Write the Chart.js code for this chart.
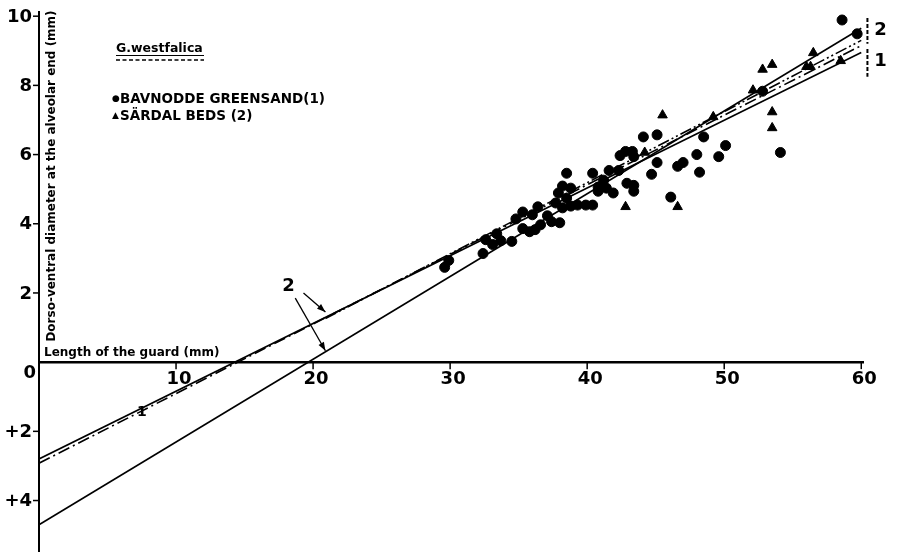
<!DOCTYPE html>
<html>
<head>
<meta charset="utf-8">
<script src="https://cdn.jsdelivr.net/npm/chart.js@4.4.0/dist/chart.umd.min.js"></script>
<style>
    html, body { margin: 0; padding: 0; background: #fff; }
    #wrap { width: 911px; height: 552px; }
</style>
</head>
<body>
<div id="wrap"><canvas id="guardChart" width="911" height="552"></canvas></div>
<script>
// Bavnodde Greensand (1) - circles
const bavnoddeX = [29.6, 29.9, 32.4, 32.6, 33.1, 33.4, 33.7, 34.5, 34.8, 35.3, 35.3, 35.8, 36.0, 36.2, 36.4, 36.6,
    37.1, 37.4, 38.0, 37.7, 37.9, 38.2, 38.5, 38.8, 38.5, 38.2, 38.8, 39.3, 39.9, 40.4, 40.4, 40.8, 41.2, 41.6,
    40.8, 41.4, 41.9, 42.3, 42.4, 42.8, 43.3, 43.4, 42.9, 43.4, 43.4, 45.1, 44.7, 46.6, 44.1, 45.1, 46.1, 47.0,
    48.0, 48.5, 49.6, 50.1, 48.2, 52.8, 54.1, 58.6, 59.7];
const bavnoddeY = [2.74, 2.94, 3.14, 3.54, 3.40, 3.71, 3.51, 3.49, 4.14, 4.34, 3.86, 3.77, 4.26, 3.83, 4.49, 3.97,
    4.23, 4.06, 4.03, 4.60, 4.89, 5.09, 5.46, 5.03, 4.74, 4.46, 4.51, 4.54, 4.54, 4.54, 5.46, 4.94, 5.26, 5.54,
    5.06, 5.03, 4.89, 5.54, 5.97, 6.09, 6.09, 5.94, 5.17, 5.11, 4.94, 5.77, 5.43, 5.66, 6.51, 6.57, 4.77, 5.77,
    6.00, 6.51, 5.94, 6.26, 5.49, 7.83, 6.06, 9.89, 9.49];

// Sardal beds (2) - triangles
const sardalX = [45.5, 49.2, 44.2, 42.8, 46.6, 52.8, 53.5, 56.5, 56.0, 56.3, 58.5, 52.1, 53.5, 53.5];
const sardalY = [7.14, 7.09, 6.06, 4.49, 4.49, 8.46, 8.60, 8.94, 8.54, 8.54, 8.71, 7.86, 7.23, 6.77];

// regression lines (end points)
const line1X = [0, 60];
const line1Solid = [-2.8, 8.95];
const line1Dash = [-2.92, 9.15];
const line2X = [0, 60];
const line2Solid = [-4.7, 9.65];
const line2DashX = [20.9, 60];
const line2Dash = [1.26, 9.3];

const xTicks = [10, 20, 30, 40, 50, 60];
const yTicks = [10, 8, 6, 4, 2, -2, -4];

const FONT = '"DejaVu Sans", "Liberation Sans", sans-serif';

function pts(xs, ys) {
    return xs.map((x, i) => ({ x: x, y: ys[i] }));
}

function lineSet(xs, ys, dash) {
    return {
        type: 'line',
        data: pts(xs, ys),
        borderColor: '#000',
        borderWidth: 1.6,
        borderDash: dash,
        pointRadius: 0,
        fill: false,
        tension: 0
    };
}

function arrow(ctx, x1, y1, x2, y2) {
    ctx.beginPath();
    ctx.moveTo(x1, y1);
    ctx.lineTo(x2, y2);
    ctx.stroke();
    const a = Math.atan2(y2 - y1, x2 - x1);
    ctx.beginPath();
    ctx.moveTo(x2, y2);
    ctx.lineTo(x2 - 9 * Math.cos(a - 0.35), y2 - 9 * Math.sin(a - 0.35));
    ctx.lineTo(x2 - 9 * Math.cos(a + 0.35), y2 - 9 * Math.sin(a + 0.35));
    ctx.closePath();
    ctx.fill();
}

// axes drawn through the origin, plus the labels of the figure
const axesPlugin = {
    id: 'axesPlugin',
    beforeDatasetsDraw(chart) {
        const ctx = chart.ctx;
        const xs = chart.scales.x, ys = chart.scales.y;
        const x0 = xs.getPixelForValue(0), y0 = ys.getPixelForValue(0);
        ctx.save();
        ctx.strokeStyle = '#000';
        // y axis
        ctx.lineWidth = 2;
        ctx.beginPath();
        ctx.moveTo(x0, ys.getPixelForValue(10.15));
        ctx.lineTo(x0, chart.height);
        ctx.stroke();
        // x axis
        ctx.lineWidth = 2.5;
        ctx.beginPath();
        ctx.moveTo(x0, y0);
        ctx.lineTo(xs.getPixelForValue(60.2), y0);
        ctx.stroke();
        // ticks
        ctx.lineWidth = 1.5;
        yTicks.forEach(v => {
            const p = ys.getPixelForValue(v);
            ctx.beginPath();
            ctx.moveTo(x0 - 6, p);
            ctx.lineTo(x0, p);
            ctx.stroke();
        });
        xTicks.forEach(v => {
            const p = xs.getPixelForValue(v);
            ctx.beginPath();
            ctx.moveTo(p, y0);
            ctx.lineTo(p, y0 + 7);
            ctx.stroke();
        });
        ctx.restore();
    },
    afterDraw(chart) {
        const ctx = chart.ctx;
        const xs = chart.scales.x, ys = chart.scales.y;
        const x0 = xs.getPixelForValue(0), y0 = ys.getPixelForValue(0);
        ctx.save();
        ctx.fillStyle = '#000';
        ctx.strokeStyle = '#000';

        // tick labels
        ctx.font = 'bold 18px ' + FONT;
        ctx.textAlign = 'right';
        ctx.textBaseline = 'middle';
        yTicks.forEach(v => {
            const txt = v < 0 ? '+' + (-v) : String(v);
            ctx.fillText(txt, x0 - 7, ys.getPixelForValue(v) + 1);
        });
        ctx.fillText('0', x0 - 3, y0 + 11);
        ctx.textAlign = 'center';
        ctx.textBaseline = 'top';
        xTicks.forEach(v => {
            ctx.fillText(String(v), xs.getPixelForValue(v) + 3, y0 + 8);
        });

        // axis titles
        ctx.font = 'bold 12px ' + FONT;
        ctx.textAlign = 'left';
        ctx.textBaseline = 'alphabetic';
        ctx.fillText('Length of the guard (mm)', x0 + 5, y0 - 6);
        ctx.save();
        ctx.translate(x0 + 16, 176);
        ctx.rotate(-Math.PI / 2);
        ctx.textAlign = 'center';
        ctx.font = 'bold 12px ' + FONT;
        ctx.fillText('Dorso-ventral diameter at the alveolar end (mm)', 0, 0);
        ctx.restore();

        // legend block
        ctx.font = 'bold 12.5px ' + FONT;
        ctx.fillText('G.westfalica', 116, 52);
        ctx.lineWidth = 1.2;
        ctx.beginPath();
        ctx.moveTo(116, 55.5);
        ctx.lineTo(204, 55.5);
        ctx.stroke();
        ctx.lineWidth = 1.5;
        ctx.setLineDash([4, 2.5]);
        ctx.beginPath();
        ctx.moveTo(116, 60);
        ctx.lineTo(204, 60);
        ctx.stroke();
        ctx.setLineDash([]);

        ctx.font = 'bold 9px ' + FONT;
        ctx.fillText('\u25CF', 112, 101);
        ctx.fillText('\u25B2', 112, 118);
        ctx.font = 'bold 13.5px ' + FONT;
        ctx.fillText('BAVNODDE GREENSAND(1)', 120, 103);
        ctx.fillText('S\u00C4RDAL BEDS (2)', 120, 120);

        // "2" with two arrows
        ctx.font = 'bold 18px ' + FONT;
        ctx.textAlign = 'center';
        ctx.textBaseline = 'middle';
        ctx.fillText('2', xs.getPixelForValue(18.2), ys.getPixelForValue(2.2));
        ctx.lineWidth = 1.3;
        arrow(ctx, xs.getPixelForValue(19.3), ys.getPixelForValue(2.0),
            xs.getPixelForValue(20.9), ys.getPixelForValue(1.45));
        arrow(ctx, xs.getPixelForValue(18.7), ys.getPixelForValue(1.85),
            xs.getPixelForValue(20.9), ys.getPixelForValue(0.33));

        // "1" mark on the upper lines
        ctx.font = 'bold 14px ' + FONT;
        ctx.fillText('1', xs.getPixelForValue(7.5), ys.getPixelForValue(-1.45));

        // brackets at the right end
        const bx = xs.getPixelForValue(60.45);
        ctx.lineWidth = 2;
        ctx.setLineDash([4, 2]);
        ctx.beginPath();
        ctx.moveTo(bx, ys.getPixelForValue(9.95));
        ctx.lineTo(bx, ys.getPixelForValue(9.2));
        ctx.moveTo(bx, ys.getPixelForValue(9.05));
        ctx.lineTo(bx, ys.getPixelForValue(8.25));
        ctx.stroke();
        ctx.setLineDash([]);
        ctx.font = 'bold 18px ' + FONT;
        ctx.fillText('2', bx + 13, ys.getPixelForValue(9.6));
        ctx.fillText('1', bx + 13, ys.getPixelForValue(8.7));
        ctx.restore();
    }
};

const ctx = document.getElementById('guardChart').getContext('2d');
const guardChart = new Chart(ctx, {
    type: 'scatter',
    data: {
        datasets: [
            lineSet(line1X, line1Solid, []),
            lineSet(line1X, line1Dash, [12, 4, 2, 4]),
            lineSet(line2X, line2Solid, []),
            lineSet(line2DashX, line2Dash, [12, 3, 2, 3, 2, 3]),
            {
                label: 'BAVNODDE GREENSAND(1)',
                data: pts(bavnoddeX, bavnoddeY),
                backgroundColor: '#000',
                borderColor: '#000',
                pointStyle: 'circle',
                pointRadius: 5
            },
            {
                label: 'S\u00C4RDAL BEDS (2)',
                data: pts(sardalX, sardalY),
                backgroundColor: '#000',
                borderColor: '#000',
                pointStyle: 'triangle',
                pointRadius: 5.5
            }
        ]
    },
    options: {
        responsive: false,
        animation: false,
        devicePixelRatio: 1,
        layout: { padding: { left: 39, right: 47, top: 11, bottom: 0 } },
        plugins: {
            legend: { display: false },
            tooltip: { enabled: false }
        },
        scales: {
            x: { type: 'linear', min: 0, max: 60.2, display: false },
            y: { type: 'linear', min: -5.3, max: 10.15, display: false }
        }
    },
    plugins: [axesPlugin]
});
</script>
</body>
</html>
